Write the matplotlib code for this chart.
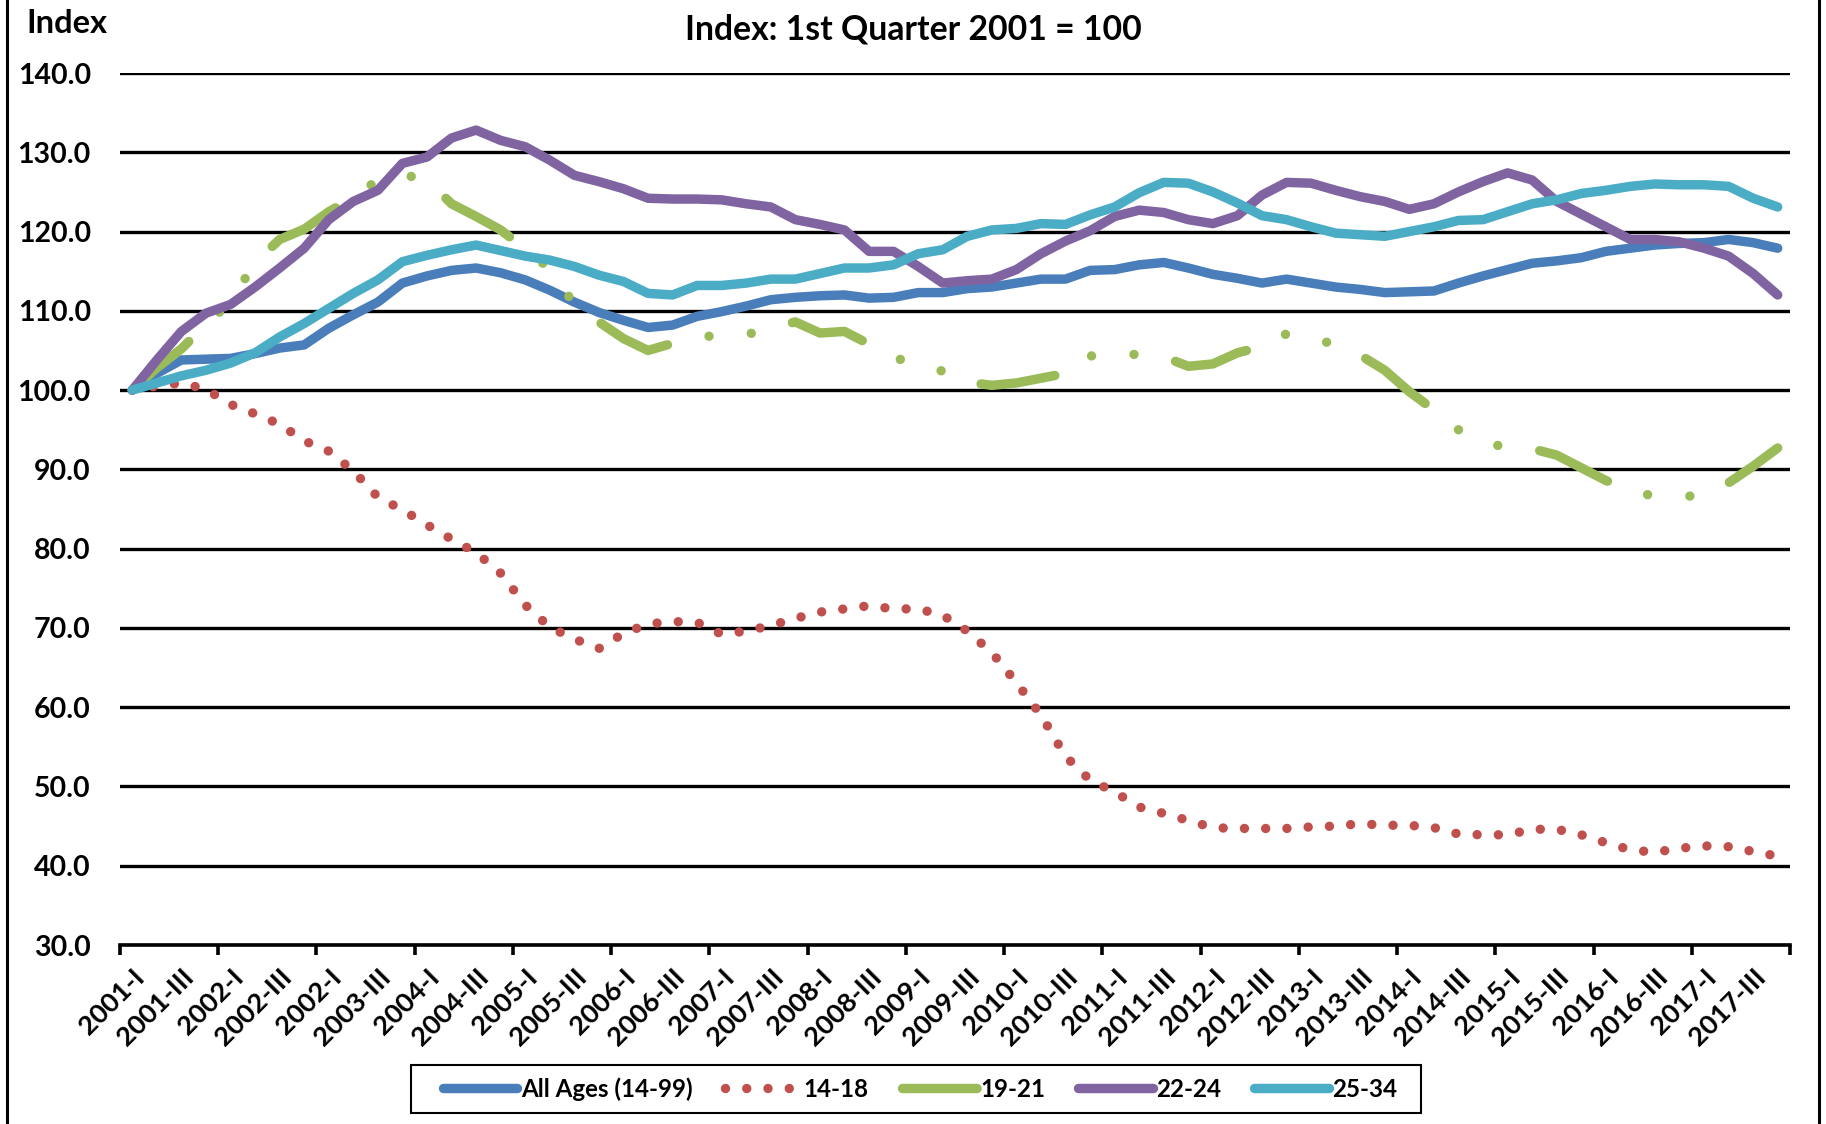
import numpy as np
import matplotlib.pyplot as plt
from matplotlib.lines import Line2D
from matplotlib.patches import Rectangle

plt.rcParams['font.family'] = ['Lato', 'DejaVu Sans']
plt.rcParams['font.weight'] = 'bold'

# quarterly index, 2001-I .. 2017-IV (68 quarters)
all_ages = [100.0, 102.1, 103.8, 103.9, 104.0, 104.6, 105.3, 105.7, 107.8, 109.5,
            111.1, 113.5, 114.4, 115.1, 115.4, 114.8, 113.9, 112.6, 111.1, 109.8,
            108.8, 107.9, 108.2, 109.3, 109.9, 110.6, 111.4, 111.7, 111.9, 112.0,
            111.6, 111.7, 112.3, 112.3, 112.8, 113.0, 113.5, 114.0, 114.0, 115.1,
            115.2, 115.8, 116.1, 115.4, 114.6, 114.1, 113.5, 114.0, 113.5, 113.0,
            112.7, 112.3, 112.4, 112.5, 113.5, 114.4, 115.2, 116.0, 116.3, 116.7,
            117.5, 117.9, 118.3, 118.5, 118.6, 119.0, 118.6, 117.9]
age_14_18 = [100.0, 100.5, 100.9, 100.1, 98.2, 97.0, 95.7, 93.6, 92.3, 89.8,
             86.5, 84.9, 83.0, 81.2, 79.5, 76.9, 72.9, 70.1, 68.6, 67.4,
             69.3, 70.5, 70.8, 70.7, 69.2, 69.6, 70.3, 71.2, 72.0, 72.4,
             72.8, 72.4, 72.4, 71.6, 69.6, 66.9, 63.1, 59.0, 53.8, 50.8,
             49.3, 47.4, 46.6, 45.7, 44.8, 44.7, 44.7, 44.7, 44.9, 45.0,
             45.3, 45.1, 45.1, 44.8, 44.0, 43.9, 43.9, 44.6, 44.6, 43.9,
             42.9, 42.0, 41.7, 42.2, 42.5, 42.4, 41.8, 41.2]
age_19_21 = [100.0, 102.8, 105.2, 108.3, 111.1, 116.1, 119.0, 120.3, 122.5, 124.3,
             126.5, 127.2, 126.5, 123.5, 121.9, 120.2, 117.8, 115.3, 110.8, 108.6,
             106.5, 105.0, 105.9, 106.6, 107.0, 107.0, 107.8, 108.6, 107.2, 107.4,
             105.8, 104.2, 103.0, 102.4, 101.0, 100.6, 100.9, 101.5, 102.1, 104.3,
             104.5, 104.5, 104.2, 103.0, 103.3, 104.7, 105.5, 107.1, 106.8, 105.6,
             104.4, 102.5, 99.8, 97.5, 95.0, 93.5, 92.7, 92.6, 91.8, 90.2,
             88.6, 87.3, 86.6, 86.5, 86.8, 88.3, 90.4, 92.7]
age_22_24 = [100.0, 103.8, 107.4, 109.7, 110.8, 113.0, 115.4, 117.9, 121.5, 123.8,
             125.2, 128.6, 129.4, 131.8, 132.8, 131.5, 130.7, 129.0, 127.1, 126.3,
             125.4, 124.2, 124.1, 124.1, 124.0, 123.5, 123.1, 121.5, 120.9, 120.2,
             117.5, 117.5, 115.6, 113.5, 113.8, 114.0, 115.2, 117.2, 118.8, 120.1,
             121.9, 122.7, 122.4, 121.5, 121.0, 122.0, 124.6, 126.2, 126.1, 125.2,
             124.4, 123.8, 122.8, 123.5, 125.0, 126.3, 127.4, 126.5, 123.8, 122.2,
             120.6, 119.0, 119.0, 118.7, 117.9, 116.9, 114.7, 112.0]
age_25_34 = [100.0, 100.9, 101.8, 102.5, 103.4, 104.7, 106.7, 108.4, 110.3, 112.2,
             113.9, 116.2, 117.0, 117.7, 118.3, 117.6, 116.9, 116.4, 115.6, 114.5,
             113.7, 112.2, 112.0, 113.2, 113.2, 113.5, 114.0, 114.0, 114.7, 115.4,
             115.4, 115.8, 117.2, 117.7, 119.4, 120.2, 120.4, 121.0, 120.9, 122.1,
             123.1, 124.9, 126.2, 126.1, 125.0, 123.6, 122.0, 121.5, 120.6, 119.8,
             119.6, 119.4, 120.0, 120.6, 121.4, 121.5, 122.5, 123.5, 124.0, 124.8,
             125.2, 125.7, 126.0, 125.9, 125.9, 125.7, 124.2, 123.1]

# every second quarter is labelled (the source repeats "2002-I")
quarter_labels = ["2001-I", "2001-III", "2002-I", "2002-III", "2002-I", "2003-III",
                  "2004-I", "2004-III", "2005-I", "2005-III", "2006-I", "2006-III",
                  "2007-I", "2007-III", "2008-I", "2008-III", "2009-I", "2009-III",
                  "2010-I", "2010-III", "2011-I", "2011-III", "2012-I", "2012-III",
                  "2013-I", "2013-III", "2014-I", "2014-III", "2015-I", "2015-III",
                  "2016-I", "2016-III", "2017-I", "2017-III"]

x = np.arange(len(all_ages))

fig = plt.figure(figsize=(18.26, 11.24), dpi=100)
ax = fig.add_axes([120/1826, 1 - 945/1124, 1670/1826, 872/1124])

lw = 6.8
opts = dict(linewidth=lw, solid_capstyle='round', solid_joinstyle='round',
            dash_capstyle='round', dash_joinstyle='round')
ax.plot(x, all_ages, color='#4A7EBB', label='All Ages (14-99)', **opts)
ax.plot(x, age_14_18, color='#C0504D', label='14-18', dashes=(0.001, 2.25), **opts)
ax.plot(x, age_19_21, color='#9BBB59', label='19-21',
        dashes=(7.9, 4.5, 0.001, 4.5, 0.001, 4.5), **opts)
ax.plot(x, age_22_24, color='#8064A2', label='22-24', **opts)
ax.plot(x, age_25_34, color='#4BACC6', label='25-34', **opts)

ax.set_xlim(-0.5, len(x) - 0.5)
ax.set_ylim(30, 140)
ax.set_yticks(np.arange(30, 141, 10))
ax.set_yticklabels(['%.1f' % v for v in np.arange(30, 141, 10)])
ax.yaxis.grid(True, color='black', linewidth=2.4)
ax.set_axisbelow(True)

ax.set_xticks(np.arange(-0.5, len(x), 4))
ax.set_xticklabels([])
ax.set_xticks(np.arange(0, len(x), 2), quarter_labels, minor=True)
ax.tick_params(axis='x', which='major', length=7, width=2.6, color='black')
ax.tick_params(axis='x', which='minor', length=0, pad=14, labelsize=19.5)
for t in ax.get_xticklabels(minor=True):
    t.set_rotation(45)
    t.set_ha('right')
    t.set_va('top')
    t.set_rotation_mode('anchor')
ax.tick_params(axis='y', length=0, pad=21, labelsize=20.5)

for s in ['left', 'right', 'top']:
    ax.spines[s].set_visible(False)
ax.spines['bottom'].set_linewidth(2.6)

fig.text(0.5, 1 - 39/1124, 'Index: 1st Quarter 2001 = 100', ha='center',
         va='baseline', fontsize=24.3, fontweight='bold')
fig.text(26/1826, 1 - 33/1124, 'Index', ha='left', va='baseline',
         fontsize=23.5, fontweight='bold')

leg = ax.legend(loc='center', bbox_to_anchor=(920/1826, 1 - 1089/1124),
                bbox_transform=fig.transFigure, ncol=5, frameon=False,
                handlelength=3.1, handletextpad=0.15, columnspacing=1.35,
                prop=dict(weight='bold', size=17.4))
fig.add_artist(Rectangle((411/1826, 1 - 1113/1124), 1010/1826, 48/1124,
                         transform=fig.transFigure, fill=False,
                         edgecolor='black', linewidth=1.5))

# chart frame, left and right edges
fig.add_artist(Line2D([7/1826, 7/1826], [0, 1], transform=fig.transFigure,
                      color='black', linewidth=2.2))
fig.add_artist(Line2D([1819/1826, 1819/1826], [0, 1], transform=fig.transFigure,
                      color='black', linewidth=2.2))

fig.savefig('out.png', dpi=100)
